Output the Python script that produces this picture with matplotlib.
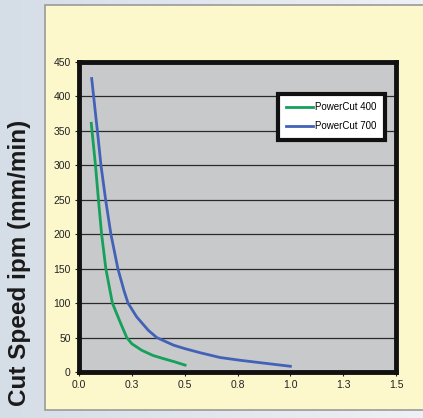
import matplotlib.pyplot as plt
import matplotlib.patches as patches
from matplotlib.colors import LinearSegmentedColormap
import numpy as np

# values
x_400 = [0.058, 0.078, 0.092, 0.107, 0.127, 0.158, 0.194, 0.226, 0.25, 0.297,
         0.35, 0.40, 0.45, 0.502]
y_400 = [361, 300, 250, 200, 150, 100, 73, 50, 41, 31.5, 24, 19.4, 15, 10]
x_700 = [0.060, 0.087, 0.104, 0.126, 0.151, 0.184, 0.213, 0.232, 0.273, 0.328,
         0.368, 0.447, 0.50, 0.573, 0.668, 0.763, 0.858, 1.0]
y_700 = [426, 350, 300, 250, 200, 150, 118, 100, 80, 60.5, 50, 39, 34, 28,
         21, 17, 13.5, 8.3]
series_labels = ['PowerCut 400', 'PowerCut 700']
x_ticks = [0.0, 0.25, 0.5, 0.75, 1.0, 1.25, 1.5]
x_ticklabels = ['0.0', '0.3', '0.5', '0.8', '1.0', '1.3', '1.5']
y_ticks = list(range(0, 451, 50))

plt.rcParams['font.family'] = ['Liberation Sans', 'DejaVu Sans']

fig = plt.figure(figsize=(4.23, 4.18), dpi=100)
W, H = 423, 418

# bluish gradient background
bg = fig.add_axes([0, 0, 1, 1], zorder=-10)
grad = np.linspace(0, 1, 256).reshape(1, -1)
cmap = LinearSegmentedColormap.from_list('bg', ['#d5dde7', '#eef1f5'])
bg.imshow(grad, aspect='auto', cmap=cmap, extent=[0, 1, 0, 1])
bg.set_axis_off()

# yellow panel
panel = patches.Rectangle((45 / W, 1 - 410 / H), 1, (410 - 5) / H,
                          transform=fig.transFigure, facecolor='#fcf8cc',
                          edgecolor='#9a9a9a', linewidth=1.2, zorder=-5)
fig.patches.append(panel)

left, right, top, bottom = 79, 396, 62, 372
ax = fig.add_axes([left / W, 1 - bottom / H, (right - left) / W, (bottom - top) / H])
ax.set_facecolor('#c8c9cb')

ax.plot(x_400, y_400, color='#15a05c', linewidth=2, label=series_labels[0], zorder=3,
        solid_joinstyle='round')
ax.plot(x_700, y_700, color='#4262b8', linewidth=2, label=series_labels[1], zorder=3,
        solid_joinstyle='round')

ax.set_xlim(0, 1.5)
ax.set_ylim(0, 450)
ax.set_xticks(x_ticks)
ax.set_xticklabels(x_ticklabels)
ax.set_yticks(y_ticks)
ax.grid(axis='y', color='#2a2a2a', linewidth=0.9)
ax.set_axisbelow(True)
ax.tick_params(labelsize=7.5, colors='#222222', length=3, width=0.8, pad=3)
for s in ax.spines.values():
    s.set_linewidth(3.5)
    s.set_color('#111111')

leg = ax.legend(loc='upper right', bbox_to_anchor=(0.965, 0.897), borderaxespad=0,
                fontsize=7, frameon=True, fancybox=False, handlelength=2.8,
                handletextpad=0.2, labelspacing=0.95, borderpad=0.85)
leg.get_frame().set_edgecolor('#111111')
leg.get_frame().set_linewidth(3)
leg.get_frame().set_facecolor('white')
leg.get_frame().set_alpha(1)

fig.text(20 / W, 1 - 263 / H, 'Cut Speed ipm (mm/min)', rotation=90,
         ha='center', va='center', fontsize=17.5, fontweight='bold', color='#1a1a1a')

fig.savefig('out.png', dpi=100)
